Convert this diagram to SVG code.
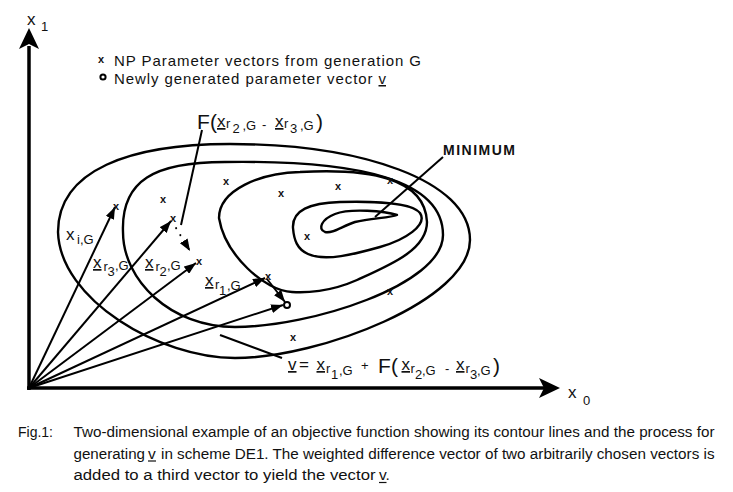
<svg xmlns="http://www.w3.org/2000/svg" width="733" height="492" viewBox="0 0 733 492">
<style>
text{font-family:"Liberation Sans",Arial,sans-serif;fill:#111}
.c{fill:none;stroke:#000;stroke-width:2.4;stroke-linejoin:round}
.v{fill:none;stroke:#000;stroke-width:2}
.ax{fill:none;stroke:#000;stroke-width:3.5}
.m{font-size:11px;font-weight:bold;text-anchor:middle}
.X{font-size:17px}
.s{font-size:13px}
.B{font-size:21px}
.ul{text-decoration:underline}
.cap{font-size:15.5px}
.uline{stroke:#111;stroke-width:1.2}
.leg{font-size:15px}
</style>
<defs>
<marker id="ah" viewBox="0 0 12 9" refX="12" refY="4.5" markerWidth="12" markerHeight="9" orient="auto" markerUnits="userSpaceOnUse">
<path d="M0,0 L12,4.5 L0,9 Z" fill="#000"/>
</marker>
</defs>
<rect width="733" height="492" fill="#fff"/>

<g id="axes">
<line class="ax" x1="29" y1="390" x2="29" y2="46"/>
<path d="M29,28 L39,49 L29,44 L19,49 Z" fill="#000"/>
<line class="ax" x1="27" y1="388" x2="545" y2="388"/>
<path d="M560,388 L539,378 L544,388 L539,398 Z" fill="#000"/>
<text x="27" y="25" class="X">x</text><text x="41" y="31" class="s">1</text>
<text x="568" y="398" class="X">x</text><text x="583" y="405" class="s">0</text>
</g>

<g id="contours">
<path id="contourA" class="c" d="M58,232 C58,170 130,144 230,144 C360,144 470,180 470,240 C470,300 320,358 235,358 C160,358 60,300 58,232 Z"/>
<path id="contourB" class="c" d="M123,232 C121,180 155,162 225,162 C360,160 443,180 443,235 C443,285 310,327 235,327 C170,327 123,280 123,232 Z"/>
<path id="contourC" class="c" d="M219,218 C219,190 260,173 300,172 C370,168 425,178 427,222 C427,250 390,265 357,280 C330,292 305,293 292,292 C265,291 225,255 219,218 Z"/>
<path id="contourD" class="c" d="M293,228 C292,210 310,203 340,202 C375,201 412,203 420,213 C428,225 405,240 380,247 C355,254 325,262 308,254 C297,249 294,240 293,228 Z"/>
<path id="minimum" class="c" d="M397,215 C385,211 350,208 335,214 C322,219 317,229 325,232 C333,234 342,226 355,222 C370,218 390,218 397,215 Z"/>
</g>

<g id="connectors">
<line class="v" x1="29" y1="388" x2="115" y2="207" marker-end="url(#ah)"/>
<line class="v" x1="29" y1="388" x2="171" y2="221" marker-end="url(#ah)"/>
<line class="v" x1="29" y1="388" x2="196" y2="263" marker-end="url(#ah)"/>
<line class="v" x1="29" y1="388" x2="265" y2="278" marker-end="url(#ah)"/>
<line class="v" x1="29" y1="388" x2="283" y2="305" marker-end="url(#ah)"/>
<line class="v" x1="267" y1="279" x2="285" y2="302" marker-end="url(#ah)"/>
<line class="v" x1="173" y1="223" x2="190" y2="251" stroke-dasharray="0.1 8" stroke-dashoffset="-6" stroke-linecap="round" stroke-width="2.2" marker-end="url(#ah)"/>
<line class="v" x1="202" y1="130" x2="181" y2="225"/>
<line class="v" x1="443" y1="157" x2="375" y2="217"/>
<line class="v" x1="220" y1="335" x2="282" y2="358"/>
</g>

<g id="points">
<text class="m" x="116" y="210">x</text>
<text class="m" x="173" y="222">x</text>
<text class="m" x="199" y="265">x</text>
<text class="m" x="268" y="280">x</text>
<text class="m" x="163" y="203">x</text>
<text class="m" x="226" y="185">x</text>
<text class="m" x="281" y="197">x</text>
<text class="m" x="338" y="190">x</text>
<text class="m" x="390" y="184">x</text>
<text class="m" x="307" y="240">x</text>
<text class="m" x="390" y="295">x</text>
<text class="m" x="293" y="341">x</text>
<circle cx="287" cy="305" r="3" fill="#fff" stroke="#000" stroke-width="2"/>
</g>

<g id="legend">
<text class="m" x="101" y="63">x</text>
<circle cx="103" cy="77" r="2.6" fill="#fff" stroke="#000" stroke-width="2"/>
<text class="leg" x="114" y="66" textLength="307" lengthAdjust="spacing">NP Parameter vectors from generation G</text>
<text class="leg" x="114" y="84" textLength="272" lengthAdjust="spacing">Newly generated parameter vector <tspan class="ul">v</tspan></text>
</g>

<g id="labels">
<text x="443" y="155" font-size="14" font-weight="bold" letter-spacing="1.5">MINIMUM</text>
<text><tspan class="X" x="66" y="240">x</tspan><tspan class="s" x="77" y="244">i,G</tspan></text>
<text><tspan class="X ul" x="93" y="268">x</tspan><tspan class="s" x="103.5" y="271">r</tspan><tspan class="s" x="107.5" y="276">3</tspan><tspan class="s" x="115" y="270">,G</tspan></text>
<text><tspan class="X ul" x="145" y="268">x</tspan><tspan class="s" x="155.5" y="271">r</tspan><tspan class="s" x="159.5" y="276">2</tspan><tspan class="s" x="167" y="270">,G</tspan></text>
<text><tspan class="X ul" x="205" y="286">x</tspan><tspan class="s" x="215" y="289">r</tspan><tspan class="s" x="219" y="295">1</tspan><tspan class="s" x="227" y="290">,G</tspan></text>
<text><tspan class="B" x="197" y="129">F</tspan><tspan class="B" x="210" y="129">(</tspan><tspan class="X ul" x="217" y="127">x</tspan><tspan class="s" x="226" y="128">r</tspan><tspan class="s" x="232.5" y="133">2</tspan><tspan class="s" x="242.5" y="130">,G</tspan><tspan class="s" x="262" y="129">-</tspan><tspan class="X ul" x="275" y="127">x</tspan><tspan class="s" x="284" y="128">r</tspan><tspan class="s" x="290" y="133">3</tspan><tspan class="s" x="300" y="130">,G</tspan><tspan class="B" x="316" y="129">)</tspan></text>
<text><tspan class="X ul" x="288" y="370">v</tspan><tspan class="X" x="299" y="370">=</tspan><tspan class="X ul" x="316.5" y="370">x</tspan><tspan class="s" x="326" y="373">r</tspan><tspan class="s" x="331" y="379">1</tspan><tspan class="s" x="339" y="375">,G</tspan><tspan class="s" x="361" y="370">+</tspan><tspan class="B" x="378" y="373">F</tspan><tspan class="B" x="391" y="373">(</tspan><tspan class="X ul" x="401.5" y="370">x</tspan><tspan class="s" x="410.5" y="373">r</tspan><tspan class="s" x="415" y="379">2</tspan><tspan class="s" x="422" y="375">,G</tspan><tspan class="s" x="445" y="373">-</tspan><tspan class="X ul" x="456" y="370">x</tspan><tspan class="s" x="465.5" y="373">r</tspan><tspan class="s" x="470" y="379">3</tspan><tspan class="s" x="477" y="375">,G</tspan><tspan class="B" x="493" y="373">)</tspan></text>
</g>

<g id="caption">
<text class="cap" x="18" y="437" textLength="35" lengthAdjust="spacingAndGlyphs">Fig.1:</text>
<text class="cap" x="73.5" y="437" textLength="641" lengthAdjust="spacingAndGlyphs">Two-dimensional example of an objective function showing its contour lines and the process for</text>
<text class="cap" x="73.5" y="458.5" textLength="71.5" lengthAdjust="spacingAndGlyphs">generating</text>
<text class="cap" x="148" y="458.5">v</text>
<line class="uline" x1="148" y1="461" x2="156" y2="461"/>
<text class="cap" x="161" y="458.5" textLength="553.5" lengthAdjust="spacingAndGlyphs">in scheme DE1. The weighted difference vector of two arbitrarily chosen vectors is</text>
<text class="cap" x="73.5" y="480" textLength="302" lengthAdjust="spacingAndGlyphs">added to a third vector to yield the vector</text>
<text class="cap" x="379" y="480">v.</text>
<line class="uline" x1="379" y1="482.5" x2="386.5" y2="482.5"/>
</g>
</svg>
